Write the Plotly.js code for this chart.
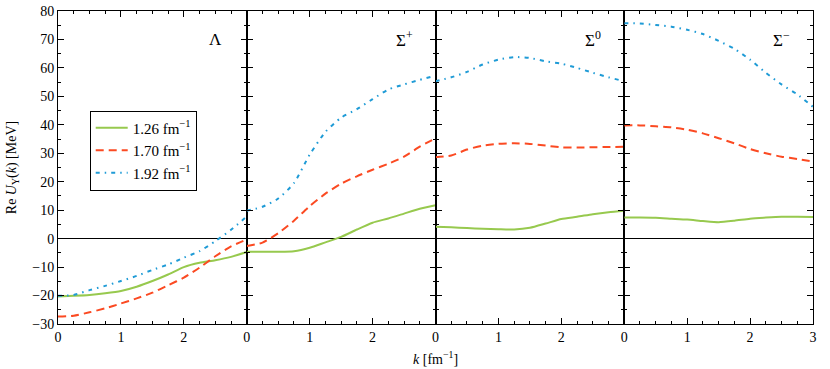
<!DOCTYPE html>
<html>
<head>
<meta charset="utf-8">
<script src="https://cdn.plot.ly/plotly-3.0.1.min.js"></script>
<style>
  html, body { margin: 0; padding: 0; background: #fff; }
  #chart { width: 830px; height: 369px; }
</style>
</head>
<body>
<div id="chart"></div>
<script>
"use strict";
// momentum grid [fm^-1]
const k = [0, 0.25, 0.5, 0.75, 1, 1.25, 1.5, 1.75, 2, 2.25, 2.5, 2.75, 3];

const cutoffs = ["1.26", "1.70", "1.92"];
const panelNames = ["Λ", "Σ<sup>+</sup>", "Σ<sup>0</sup>", "Σ<sup>−</sup>"];

// Lambda
const lambda126 = [-20.3, -20.1, -19.8, -19.2, -18.4, -16.9, -14.9, -12.6, -10, -8.5, -7.6, -6.4, -4.7];
const lambda170 = [-27.4, -27.1, -25.9, -24.5, -22.8, -21, -19, -16.4, -13.7, -10.2, -6.2, -2.7, -0.3];
const lambda192 = [-20.1, -19.8, -18.1, -16.6, -14.9, -13.1, -11, -9.1, -6.7, -4.4, -0.9, 3.1, 7.8];
// Sigma+
const sigmaP126 = [-4.6, -4.6, -4.6, -4.4, -3.2, -1.3, 0.6, 3.2, 5.6, 7.1, 8.8, 10.5, 11.7];
const sigmaP170 = [-2.6, -1.4, 1.9, 6.3, 11.4, 15.8, 19.3, 21.9, 24.2, 26.3, 28.8, 32.3, 35.3];
const sigmaP192 = [9.8, 11.2, 14.1, 19.5, 29.5, 37.5, 42.5, 45.5, 49, 52.4, 54.2, 55.8, 57.3];
// Sigma0
const sigma0126 = [4.2, 4.0, 3.7, 3.5, 3.3, 3.2, 3.8, 5.3, 6.9, 7.7, 8.6, 9.3, 9.8];
const sigma0170 = [28.6, 29.2, 31.3, 32.7, 33.3, 33.5, 33.3, 32.7, 32.1, 32, 32.1, 32.2, 32.3];
const sigma0192 = [55.3, 56.7, 58.6, 61.2, 62.9, 63.8, 63.5, 62.3, 61.5, 60, 58.3, 56.7, 55.3];
// Sigma-
const sigmaM126 = [7.4, 7.4, 7.3, 7.0, 6.7, 6.2, 5.8, 6.3, 7, 7.4, 7.7, 7.7, 7.6];
const sigmaM170 = [39.8, 39.8, 39.5, 39.1, 38.3, 37, 35.3, 33.5, 31.5, 30, 28.8, 28, 27.1];
const sigmaM192 = [75.7, 75.6, 75.1, 74.5, 73.4, 71.9, 69.5, 66.7, 62.9, 58.3, 54.2, 50.7, 46.3];

const panels = [
  [lambda126, lambda170, lambda192],
  [sigmaP126, sigmaP170, sigmaP192],
  [sigma0126, sigma0170, sigma0192],
  [sigmaM126, sigmaM170, sigmaM192],
];

const lineStyles = [
  {color: "#97c94e", width: 2, dash: "solid"},
  {color: "#fb4a22", width: 2, dash: "8px,5px"},
  {color: "#1f9bd6", width: 2, dash: "4px,5px,1.5px,5px"},
];

const font = {family: "Liberation Serif, DejaVu Serif, serif", size: 14, color: "#000"};

let traces = [];
panels.forEach((series, p) => {
  series.forEach((vals, i) => {
    traces.push({
      x: k,
      y: vals,
      type: "scatter",
      mode: "lines",
      line: Object.assign({shape: "spline", smoothing: 0.6}, lineStyles[i]),
      name: cutoffs[i] + " fm<sup>−1</sup>",
      showlegend: p === 0,
      xaxis: p === 0 ? "x" : "x" + (p + 1),
      yaxis: p === 0 ? "y" : "y" + (p + 1),
    });
  });
});

function xAxis(p) {
  const last = p === 3;
  return {
    domain: [p / 4, (p + 1) / 4],
    range: [0, 3],
    tickvals: [0, 1, 2, 3],
    ticktext: last ? ["0", "1", "2", "3"] : ["0", "1", "2", ""],
    ticks: "inside",
    ticklen: 6,
    tickwidth: 1,
    tickcolor: "#000",
    minor: {dtick: 0.25, tick0: 0, ticks: "inside", ticklen: 3, tickcolor: "#000"},
    showline: true,
    linecolor: "#000",
    linewidth: 1,
    mirror: "ticks",
    showgrid: false,
    zeroline: false,
    anchor: p === 0 ? "y" : "y" + (p + 1),
    tickfont: font,
  };
}

function yAxis(p) {
  return {
    domain: [0, 1],
    range: [-30, 80],
    dtick: 10,
    ticks: "inside",
    ticklen: 6,
    tickwidth: 1,
    tickcolor: "#000",
    minor: {dtick: 5, ticks: "inside", ticklen: 3, tickcolor: "#000"},
    showticklabels: p === 0,
    showline: true,
    linecolor: "#000",
    linewidth: 1,
    mirror: "ticks",
    showgrid: false,
    zeroline: true,
    zerolinecolor: "#000",
    zerolinewidth: 1.5,
    anchor: p === 0 ? "x" : "x" + (p + 1),
    tickfont: font,
    title: p === 0 ? {text: "Re <i>U</i><sub>Y</sub>(<i>k</i>) [MeV]", font: font, standoff: 12} : undefined,
  };
}

const layout = {
  width: 830,
  height: 369,
  margin: {l: 58, r: 17, t: 11, b: 45},
  paper_bgcolor: "#fff",
  plot_bgcolor: "#fff",
  font: font,
  showlegend: true,
  legend: {
    x: 0.042, y: 0.682, xanchor: "left", yanchor: "top",
    bgcolor: "#fff",
    bordercolor: "#000",
    borderwidth: 1,
    font: {family: font.family, size: 15, color: "#000"},
    tracegroupgap: 0,
    itemwidth: 32,
  },
  annotations: panelNames.map((name, p) => ({
    text: name,
    xref: p === 0 ? "x" : "x" + (p + 1),
    yref: p === 0 ? "y" : "y" + (p + 1),
    x: 2.5, y: 70,
    showarrow: false,
    font: {family: font.family, size: 17, color: "#000"},
  })).concat([{
    text: "<i>k</i> [fm<sup>−1</sup>]",
    xref: "paper", yref: "paper",
    x: 0.5, y: -0.11, yanchor: "middle",
    showarrow: false,
    font: font,
  }]),
};

for (let p = 0; p < 4; p++) {
  layout[p === 0 ? "xaxis" : "xaxis" + (p + 1)] = xAxis(p);
  layout[p === 0 ? "yaxis" : "yaxis" + (p + 1)] = yAxis(p);
}

Plotly.newPlot("chart", traces, layout, {displayModeBar: false, staticPlot: true});
</script>
</body>
</html>
